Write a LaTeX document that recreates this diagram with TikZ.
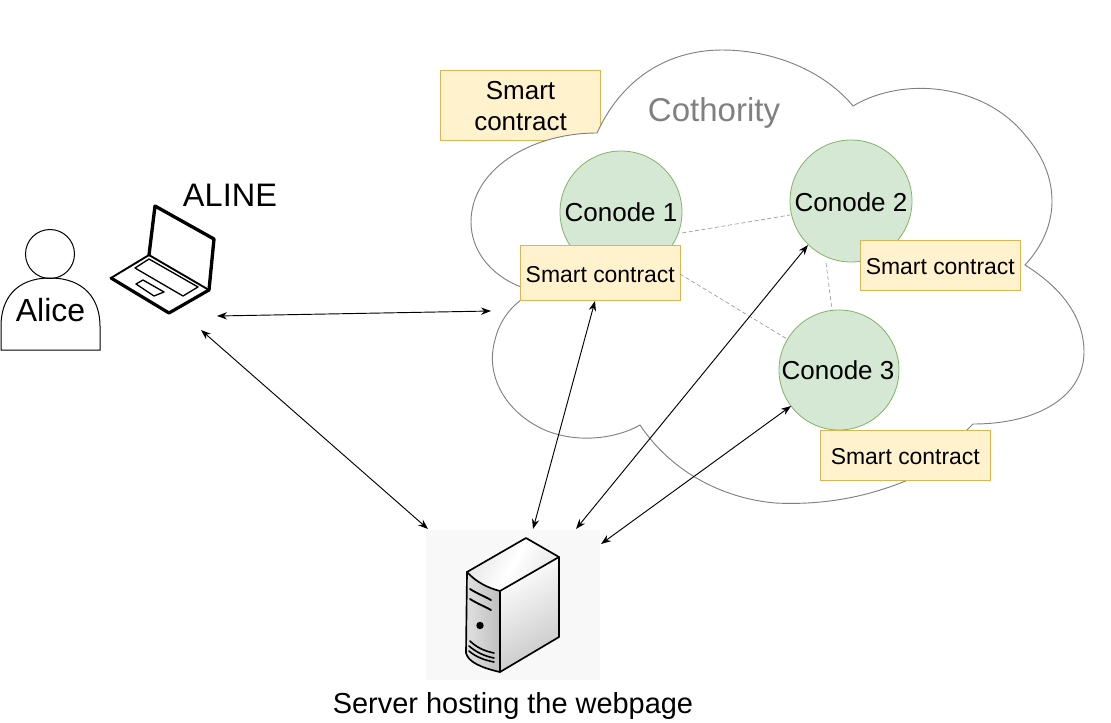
\documentclass[tikz,border=0pt]{standalone}
\usepackage{fontspec}
\setmainfont{Liberation Sans}
\usetikzlibrary{arrows.meta,shadings}
\definecolor{scfill}{HTML}{FFF2CC}
\definecolor{scline}{HTML}{D6B656}
\definecolor{cnfill}{HTML}{D5E8D4}
\definecolor{cnline}{HTML}{82B366}
\definecolor{cloudline}{HTML}{808080}
\definecolor{srvbg}{HTML}{F8F8F8}
\newcommand{\fs}[1]{\fontsize{#1}{#1}\selectfont}
\tikzset{
  x=0.75pt,y=-0.75pt,
  conode/.style={circle,draw=cnline,fill=cnfill,line width=0.6pt,minimum size=#1*0.75pt,inner sep=0pt},
  sc/.style={rectangle,draw=scline,fill=scfill,line width=0.7pt,inner sep=0pt,font=\fs{17.2},align=center},
  sctext/.style={text height=14.6pt,text depth=0pt},
  link/.style={draw=gray!85,line width=0.45pt,dash pattern=on 3pt off 2pt},
  dbl/.style={{Stealth[length=7.5pt,width=5.5pt]}-{Stealth[length=7.5pt,width=5.5pt]},line width=0.7pt,black},
  lbl/.style={inner sep=0pt,anchor=center},
  ln/.style={line join=round,line cap=round},
}
\begin{document}
\begin{tikzpicture}
\useasboundingbox (0,0) rectangle (1111,722);
% box behind the cloud
\node[sc,minimum width=119.5pt,minimum height=52.5pt] (sc0) at (520.3,105) {};
% cloud
\draw[cloudline,fill=white,line width=0.7pt]
  (597,133) .. controls (625,72) and (675,50) .. (722,50)
  .. controls (775,50) and (825,72) .. (853,106)
  .. controls (905,75) and (985,85) .. (1025,135)
  .. controls (1060,175) and (1062,225) .. (1025,265)
  .. controls (1065,290) and (1084,320) .. (1084,352)
  .. controls (1084,395) and (1040,424) .. (973,424)
  -- (966,431) -- (908,480)
  .. controls (860,500) and (815,505) .. (775,503)
  .. controls (720,498) and (670,470) .. (640,425)
  .. controls (610,442) and (565,443) .. (535,425)
  .. controls (505,408) and (485,375) .. (495,340)
  .. controls (499,322) and (510,308) .. (521,300)
  -- (521,287)
  .. controls (490,275) and (471,250) .. (471,222)
  .. controls (471,170) and (530,133) .. (597,133);
\node[lbl,font=\fs{19.5},align=center] (sc0t) at (520.5,106) {Smart\\[3.5pt]contract};
% conodes
\node[conode=122] (c1) at (621,212) {};
\node[conode=122] (c2) at (851,201) {};
\node[conode=120] (c3) at (839,370) {};
\node[font=\fs{19.5},lbl] (t1) at (621,212) {Conode 1};
\node[font=\fs{19.5},lbl] (t2) at (851,202) {Conode 2};
\node[font=\fs{19.5},lbl] (t3) at (838,370) {Conode 3};
% smart contracts
\node[sc,sctext,minimum width=119.5pt,minimum height=41.25pt] (sc1) at (600.3,273) {Smart contract};
\node[sc,sctext,minimum width=119.5pt,minimum height=37.5pt] (sc2) at (940.3,265) {Smart contract};
\node[sc,sctext,minimum width=127pt,minimum height=37.5pt] (sc3) at (905.3,455) {Smart contract};
% dashed links
\coordinate (d1a) at (682,233); \coordinate (d1b) at (790,215);
\coordinate (d2a) at (680,274); \coordinate (d2b) at (787,339);
\coordinate (d3a) at (826,263); \coordinate (d3b) at (832,310);
\draw[link] (d1a) -- (d1b);
\draw[link] (d2a) -- (d2b);
\draw[link] (d3a) -- (d3b);
\node[lbl,font=\fs{24.75},text=cloudline] (coth) at (714,113) {Cothority};
% person
\draw[black,line width=0.75pt] (50,254) circle[radius=24.5];
\draw[black,line width=0.75pt] (1,350) -- (1,326) .. controls (1,300) and (15,278) .. (50,278)
  .. controls (85,278) and (100,300) .. (100,326) -- (100,350) -- cycle;
\node[lbl,font=\fs{24}] (alice) at (50.5,310) {Alice};
% laptop
\node[lbl,font=\fs{24.4}] (aline) at (230,195) {ALINE};
\draw[ln,line width=2.5pt] (149,255) -- (155,206) -- (214,239) -- (209,290);
\draw[ln,line width=1.4pt] (111,278) -- (149,255) -- (209,290) -- (169,313) -- cycle;
\draw[ln,line width=2.4pt] (111,278) -- (169,313) -- (209,290);
\draw[ln,line width=1pt] (135,268) -- (149,259) -- (198,287) -- (183,296) -- cycle;
\draw[ln,line width=1pt] (136,284) -- (143,280) -- (164,292) -- (154,296) -- cycle;
% server
\fill[srvbg] (426,530) rectangle (600,680);
\shade[top color=black!10,bottom color=black!10,middle color=white,shading angle=60]
  (526,538) -- (559,557) -- (500,591) .. controls (488,588) and (476,582) .. (467,572) -- cycle;
\shade[left color=white,right color=black!22,shading angle=30]
  (500,591) -- (559,557) -- (559,637) -- (500,672) -- cycle;
\shade[left color=black!12,right color=black!25]
  (467,572) .. controls (476,582) and (488,588) .. (500,591) -- (500,672) .. controls (482,668) and (468,662) .. (466,653) -- cycle;
\draw[ln,line width=1.25pt]
  (526,538) -- (559,557) -- (559,637) -- (500,672) .. controls (482,668) and (468,662) .. (466,653) -- (467,572) -- cycle;
\draw[ln,line width=1.25pt] (467,572) .. controls (476,582) and (488,588) .. (500,591) -- (559,557);
\draw[ln,line width=1.25pt] (500,591) -- (500,672);
\draw[ln,line width=1.4pt] (470,589) .. controls (478,594) and (486,597) .. (491,600);
\draw[ln,line width=1.4pt] (470,599) .. controls (478,604) and (486,607) .. (491,610);
\fill[black] (480,625.5) circle[radius=3.7];
\draw[ln,line width=1.2pt] (470,641) .. controls (476,647) and (484,651) .. (494,653);
\draw[ln,line width=1.2pt] (469,646) .. controls (476,652) and (484,656) .. (494,658);
\draw[ln,line width=1.2pt] (469,651) .. controls (476,657) and (484,660) .. (494,662);
\node[lbl,font=\fs{21.7}] (srv) at (513,706) {Server hosting the webpage};
% arrows
\coordinate (p1) at (217,316); \coordinate (cl1) at (491,311);
\coordinate (p2) at (201,330); \coordinate (s0) at (428,529);
\coordinate (p3) at (595,301); \coordinate (s1) at (533,529);
\coordinate (p4) at (808,245); \coordinate (s2) at (576,529);
\coordinate (p5) at (791,406); \coordinate (s3) at (601,544);
\draw[dbl] (p1) -- (cl1);
\draw[dbl] (p2) -- (s0);
\draw[dbl] (p3) -- (s1);
\draw[dbl] (p4) -- (s2);
\draw[dbl] (p5) -- (s3);
\end{tikzpicture}
\end{document}
